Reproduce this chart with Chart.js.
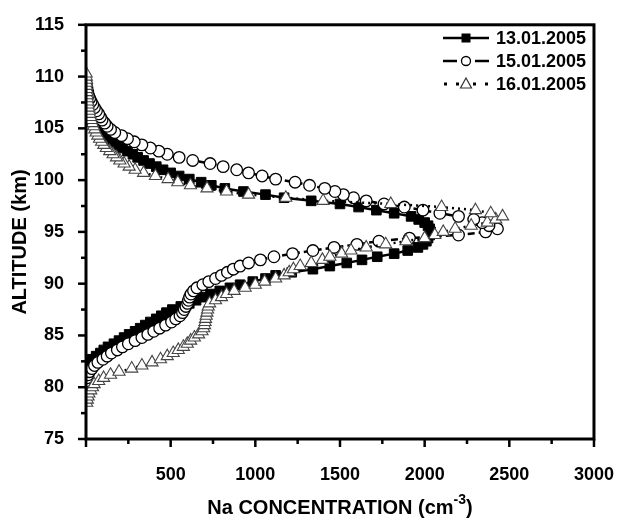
<!DOCTYPE html>
<html>
<head>
<meta charset="utf-8">
<script src="https://cdn.jsdelivr.net/npm/chart.js@4.4.1/dist/chart.umd.min.js"></script>
<style>
  html, body { margin: 0; padding: 0; background: #fff; }
  #wrap { width: 631px; height: 520px; }
</style>
</head>
<body>
<div id="wrap"><canvas id="chart" width="631" height="520"></canvas></div>
<script>
// altitude grid (km), shared by the three profiles
var ALT = [78.5, 78.8, 79.1, 79.4, 79.7, 80.0, 80.3, 80.6, 80.9, 81.2,
    81.5, 81.8, 82.1, 82.4, 82.7, 83.0, 83.3, 83.6, 83.9, 84.2,
    84.5, 84.8, 85.1, 85.4, 85.7, 86.0, 86.3, 86.6, 86.9, 87.2,
    87.5, 87.8, 88.1, 88.4, 88.7, 89.0, 89.3, 89.6, 89.9, 90.2,
    90.5, 90.8, 91.1, 91.4, 91.7, 92.0, 92.3, 92.6, 92.9, 93.2,
    93.5, 93.8, 94.1, 94.4, 94.7, 95.0, 95.3, 95.6, 95.9, 96.2,
    96.5, 96.8, 97.1, 97.4, 97.7, 98.0, 98.3, 98.6, 98.9, 99.2,
    99.5, 99.8, 100.1, 100.4, 100.7, 101.0, 101.3, 101.6, 101.9, 102.2,
    102.5, 102.8, 103.1, 103.4, 103.7, 104.0, 104.3, 104.6, 104.9, 105.2,
    105.5, 105.8, 106.1, 106.4, 106.7, 107.0, 107.3, 107.6, 107.9, 108.2,
    108.5, 108.8, 109.1, 109.4, 109.7, 110.0, 110.3];

// Na concentration (cm-3) on 13.01.2005
var NA_13 = [null, null, null, null, null, null, null, null, null, null,
    null, 1, 4, 15, 35, 60, 85, 105, 130, 165,
    195, 225, 255, 290, 320, 350, 380, 415, 445, 475,
    510, 560, 610, 650, 690, 735, 790, 850, 910, 985,
    1060, 1120, 1215, 1340, 1440, 1540, 1630, 1720, 1820, 1900,
    1960, 1990, 2010, 2020, 2030, 2035, 2030, 2020, 2000, 1965,
    1920, 1820, 1715, 1610, 1500, 1330, 1170, 1060, 930, 820,
    740, 680, 610, 550, 500, 455, 415, 375, 340, 305,
    277, 245, 215, 188, 165, 145, 125, 108, 95, 82,
    70, 60, 50, 43, 36, 28, 22, 16, 11, 7,
    4, 2, null, null, null, null, null];

// Na concentration (cm-3) on 15.01.2005
var NA_15 = [null, null, null, null, null, null, null, 3, 6, 12,
    20, 35, 50, 70, 100, 125, 150, 185, 215, 250,
    290, 330, 365, 400, 435, 470, 505, 530, 555, 570,
    580, 590, 600, 605, 612, 620, 635, 655, 690, 725,
    765, 800, 835, 870, 910, 960, 1030, 1110, 1220, 1340,
    1465, 1600, 1730, 1910, 2200, 2360, 2430, 2380, 2340, 2290,
    2200, 2090, 1990, 1880, 1760, 1655, 1580, 1520, 1470, 1410,
    1320, 1235, 1120, 1040, 960, 890, 810, 733, 630, 550,
    480, 430, 380, 330, 285, 245, 210, 170, 145, 125,
    110, 95, 85, 75, 62, 50, 40, 30, 22, 15,
    10, 6, 3, 1, null, null, null];

// Na concentration (cm-3) on 16.01.2005
var NA_16 = [4, 8, 12, 17, 28, 38, 48, 75, 104, 145,
    195, 270, 330, 390, 440, 480, 515, 545, 575, 598,
    618, 640, 665, 685, 695, 700, 703, 706, 710, 714,
    718, 722, 730, 765, 800, 830, 875, 940, 1000, 1055,
    1120, 1170, 1200, 1225, 1265, 1330, 1396, 1440, 1510, 1565,
    1655, 1770, 1890, 2000, 2060, 2110, 2180, 2275, 2370, 2420,
    2460, 2390, 2300, 2100, 1800, 1400, 1180, 960, 830, 715,
    617, 542, 485, 410, 340, 290, 255, 225, 200, 180,
    160, 140, 120, 105, 92, 80, 70, 60, 52, 45,
    38, 32, 27, 23, 19, 16, 13, 11, 9, 7,
    6, 5, 4, 3, 3, 2, 1];

var SERIES_LABELS = ['13.01.2005', '15.01.2005', '16.01.2005'];
var X_TICKS = [500, 1000, 1500, 2000, 2500, 3000];
var Y_TICKS = [75, 80, 85, 90, 95, 100, 105, 110, 115];

var FONT = '"Liberation Sans", Arial, sans-serif';

function toPoints(vals) {
    var pts = [];
    for (var i = 0; i < ALT.length; i++) {
        if (vals[i] != null) pts.push({x: vals[i], y: ALT[i]});
    }
    return pts;
}

// frame, minor/major ticks, titles and the inset legend
var decorPlugin = {
    id: 'decor',
    afterDraw: function(chart) {
        var ctx = chart.ctx;
        var area = chart.chartArea;
        var xs = chart.scales.x;
        var ys = chart.scales.y;
        ctx.save();
        ctx.strokeStyle = '#000';
        ctx.lineWidth = 3;
        ctx.strokeRect(area.left, area.top, area.right - area.left, area.bottom - area.top);

        ctx.lineWidth = 2.5;
        var v, p, len;
        for (v = 0; v <= 3000; v += 250) {
            p = xs.getPixelForValue(v);
            len = (v % 500 === 0) ? 8 : 5;
            ctx.beginPath();
            ctx.moveTo(p, area.bottom);
            ctx.lineTo(p, area.bottom + len);
            ctx.stroke();
        }
        for (v = 75; v <= 115; v += 2.5) {
            p = ys.getPixelForValue(v);
            len = (v % 5 === 0) ? 8 : 5;
            ctx.beginPath();
            ctx.moveTo(area.left, p);
            ctx.lineTo(area.left - len, p);
            ctx.stroke();
        }

        // axis titles
        ctx.fillStyle = '#000';
        ctx.font = 'bold 20px ' + FONT;
        ctx.textBaseline = 'middle';
        ctx.textAlign = 'center';
        ctx.save();
        ctx.translate(20, 242);
        ctx.rotate(-Math.PI / 2);
        ctx.fillText('ALTITUDE (km)', 0, 0);
        ctx.restore();

        var t1 = 'Na CONCENTRATION (cm';
        var sup = '-3';
        var t2 = ')';
        ctx.font = 'bold 20px ' + FONT;
        var w1 = ctx.measureText(t1).width;
        var w3 = ctx.measureText(t2).width;
        ctx.font = 'bold 14px ' + FONT;
        var w2 = ctx.measureText(sup).width;
        var total = w1 + w2 + w3;
        var cx = (area.left + area.right) / 2;
        var x0 = cx - total / 2;
        var by = 514;
        ctx.textAlign = 'left';
        ctx.textBaseline = 'alphabetic';
        ctx.font = 'bold 20px ' + FONT;
        ctx.fillText(t1, x0, by);
        ctx.font = 'bold 14px ' + FONT;
        ctx.fillText(sup, x0 + w1, by - 10);
        ctx.font = 'bold 20px ' + FONT;
        ctx.fillText(t2, x0 + w1 + w2, by);

        // legend
        var rows = [38, 61, 84];
        var lx0 = 443, lx1 = 489, mx = 466;
        ctx.font = 'bold 18px ' + FONT;
        ctx.textBaseline = 'middle';
        ctx.textAlign = 'left';
        for (var i = 0; i < 3; i++) {
            var y = rows[i];
            ctx.strokeStyle = '#000';
            ctx.lineWidth = 2.5;
            ctx.setLineDash([]);
            if (i === 0) {
                ctx.beginPath(); ctx.moveTo(lx0, y); ctx.lineTo(lx1, y); ctx.stroke();
                ctx.fillStyle = '#000';
                ctx.fillRect(mx - 4.5, y - 4.5, 9, 9);
            } else if (i === 1) {
                ctx.beginPath(); ctx.moveTo(lx0, y); ctx.lineTo(lx0 + 14, y); ctx.stroke();
                ctx.beginPath(); ctx.moveTo(lx1 - 14, y); ctx.lineTo(lx1, y); ctx.stroke();
                ctx.lineWidth = 1.3;
                ctx.fillStyle = '#fff';
                ctx.beginPath(); ctx.arc(mx, y, 4.5, 0, Math.PI * 2); ctx.fill(); ctx.stroke();
            } else {
                ctx.fillStyle = '#000';
                ctx.fillRect(lx0 + 1, y - 1.5, 3, 3);
                ctx.fillRect(lx1 - 4, y - 1.5, 3, 3);
                ctx.fillRect(mx - 10, y - 1.5, 3, 3);
                ctx.fillRect(mx + 7, y - 1.5, 3, 3);
                ctx.strokeStyle = '#333';
                ctx.lineWidth = 1.2;
                ctx.fillStyle = '#fff';
                ctx.beginPath();
                ctx.moveTo(mx, y - 6);
                ctx.lineTo(mx + 5.5, y + 4);
                ctx.lineTo(mx - 5.5, y + 4);
                ctx.closePath();
                ctx.fill(); ctx.stroke();
            }
            ctx.fillStyle = '#000';
            ctx.fillText(SERIES_LABELS[i], 496, y + 1);
        }
        ctx.restore();
    }
};

var ctx = document.getElementById('chart').getContext('2d');
var naChart = new Chart(ctx, {
    type: 'line',
    data: {
        datasets: [
            {
                label: SERIES_LABELS[0],
                data: toPoints(NA_13),
                borderColor: '#000',
                borderWidth: 2.5,
                pointStyle: 'rect',
                pointRadius: 6.8,
                pointBackgroundColor: '#000',
                pointBorderColor: '#000',
                pointBorderWidth: 1,
                order: 3
            },
            {
                label: SERIES_LABELS[1],
                data: toPoints(NA_15),
                borderColor: '#000',
                borderWidth: 2.5,
                borderDash: [7, 4],
                pointStyle: 'circle',
                pointRadius: 5.8,
                pointBackgroundColor: '#fff',
                pointBorderColor: '#000',
                pointBorderWidth: 1.3,
                order: 2
            },
            {
                label: SERIES_LABELS[2],
                data: toPoints(NA_16),
                borderColor: '#000',
                borderWidth: 2.5,
                borderDash: [2, 4],
                pointStyle: 'triangle',
                pointRadius: 7,
                pointBackgroundColor: '#fff',
                pointBorderColor: '#444',
                pointBorderWidth: 1.1,
                order: 1
            }
        ]
    },
    options: {
        responsive: false,
        animation: false,
        devicePixelRatio: 1,
        layout: { padding: { top: 19, right: 25, left: 0, bottom: 0 } },
        plugins: {
            legend: { display: false },
            tooltip: { enabled: false }
        },
        scales: {
            x: {
                type: 'linear',
                min: 0,
                max: 3000,
                afterFit: function(scale) { scale.height = 81; },
                afterBuildTicks: function(scale) {
                    scale.ticks = X_TICKS.map(function(v) { return {value: v}; });
                },
                grid: { display: false },
                border: { display: false },
                ticks: {
                    color: '#000',
                    padding: 17,
                    maxRotation: 0,
                    callback: function(value) { return String(value); },
                    font: { family: FONT, size: 18, weight: 'bold' }
                }
            },
            y: {
                type: 'linear',
                min: 75,
                max: 115,
                afterFit: function(scale) { scale.width = 86; },
                afterBuildTicks: function(scale) {
                    scale.ticks = Y_TICKS.map(function(v) { return {value: v}; });
                },
                grid: { display: false },
                border: { display: false },
                ticks: {
                    color: '#000',
                    padding: 14,
                    callback: function(value) { return String(value); },
                    font: { family: FONT, size: 18, weight: 'bold' }
                }
            }
        }
    },
    plugins: [decorPlugin]
});
</script>
</body>
</html>
